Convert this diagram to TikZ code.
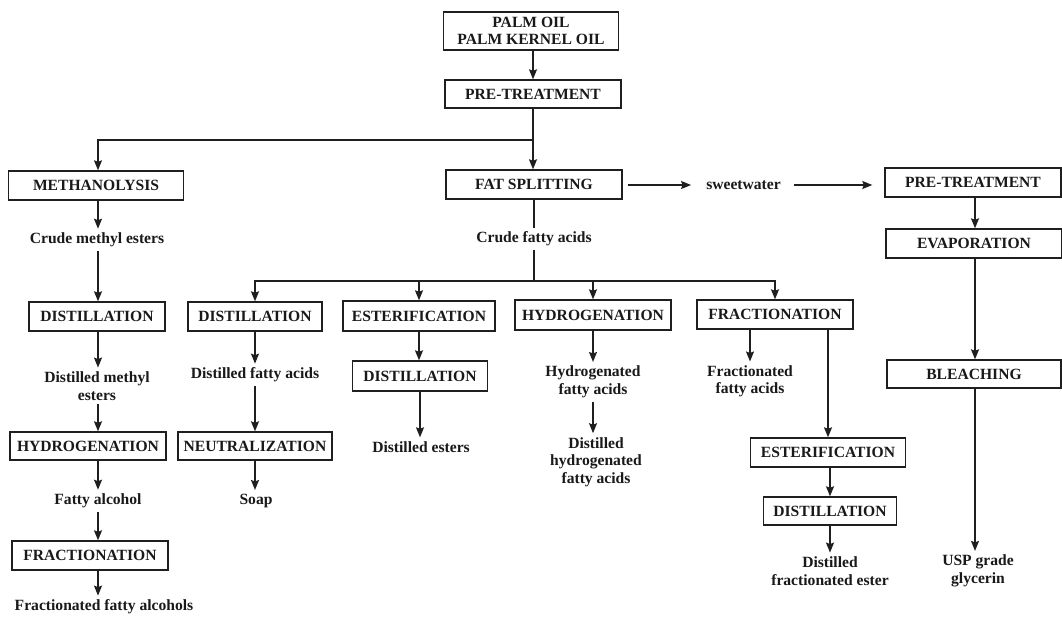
\documentclass[tikz,border=0pt]{standalone}
\usepackage{fontspec}
\setmainfont{Liberation Serif}
\usetikzlibrary{arrows.meta}
\newcommand\lblfont{\fontsize{15.6}{17.5}\selectfont\bfseries}
\begin{document}
\begin{tikzpicture}[x=1pt,y=-1pt,
  ink/.style={draw=black!88, line width=1.4pt},
  arr/.style={ink, -{Stealth[length=10pt,width=8pt,inset=1.5pt]}},
  box/.style={draw=black!88, line width=1.4pt, minimum height=29pt, inner sep=0pt, font=\lblfont, text=black!90},
  lbl/.style={inner sep=4pt, font=\lblfont, align=center, text=black!90}]
\fill[white] (0,0) rectangle (1062,619);
\useasboundingbox (0,0) rectangle (1062,619);

% top
\node[box, minimum width=175pt, minimum height=38pt, align=center] (top) at (531,31) {PALM OIL\\[-1pt]PALM KERNEL OIL};
\node[box, minimum width=176pt, minimum height=28pt] (pre1) at (533,94) {PRE-TREATMENT};
\coordinate (sp) at (533,140);
\node[box, minimum width=175pt] (meth) at (96,185.5) {METHANOLYSIS};
\node[box, minimum width=176pt] (fs) at (534,184.5) {FAT SPLITTING};
\node[lbl] (sw) at (743.5,185) {sweetwater};
\node[box, minimum width=176pt] (pre2) at (973,182.5) {PRE-TREATMENT};

% left column
\coordinate (cL) at (98,0);
\node[lbl] (cme) at (97,240) {Crude methyl esters};
\node[box, minimum width=136pt] (dist1) at (97,316.5) {DISTILLATION};
\node[lbl] (dme) at (97,386) {Distilled methyl\\esters};
\node[box, minimum width=156pt, minimum height=28pt] (hyd1) at (88,446) {HYDROGENATION};
\node[lbl] (falc) at (98,501) {Fatty alcohol};
\node[box, minimum width=156pt] (frac1) at (90,555.5) {FRACTIONATION};
\node[lbl] (fralc) at (104,607) {Fractionated fatty alcohols};

% middle
\node[lbl] (cfa) at (534,239) {Crude fatty acids};
\coordinate (j) at (534,281);
\node[box, minimum width=134pt] (dist2) at (255,316.5) {DISTILLATION};
\node[lbl] (dfa) at (255,375) {Distilled fatty acids};
\node[box, minimum width=154pt, minimum height=28pt] (neut) at (255,446) {NEUTRALIZATION};
\node[lbl] (soap) at (256,501) {Soap};
\node[box, minimum width=152pt, minimum height=30pt] (est1) at (419,316) {ESTERIFICATION};
\node[box, minimum width=135pt, minimum height=30pt] (dist3) at (420,376) {DISTILLATION};
\node[lbl] (dest) at (421,447) {Distilled esters};
\node[box, minimum width=156pt, minimum height=30pt] (hyd2) at (593,315) {HYDROGENATION};
\node[lbl] (hfa) at (593,382) {Hydrogenated\\fatty acids};
\node[lbl] (dhfa) at (596,462) {Distilled\\hydrogenated\\fatty acids};
\node[box, minimum width=156pt] (frac2) at (775,314.5) {FRACTIONATION};
\node[lbl] (ffa) at (750,381.5) {Fractionated\\fatty acids};
\node[box, minimum width=155pt] (est2) at (828,452.5) {ESTERIFICATION};
\node[box, minimum width=133pt, minimum height=28pt] (dist4) at (830,511) {DISTILLATION};
\node[lbl] (dfe) at (830,571) {Distilled\\fractionated ester};

% right column
\coordinate (cR) at (975,0);
\node[box, minimum width=176pt] (evap) at (974,243.5) {EVAPORATION};
\node[box, minimum width=174pt, minimum height=28pt] (bleach) at (974,374) {BLEACHING};
\node[lbl] (usp) at (978,571) {USP grade\\glycerin};

% connectors: top
\draw[arr] (top.south -| sp) -- (pre1.north -| sp);
\draw[ink] (pre1.south -| sp) -- (sp);
\draw[arr] (sp) -| (meth.north -| cL);
\draw[arr] (sp) -- (fs.north -| sp);
\draw[arr, shorten <=5pt, shorten >=11pt] (fs.east |- sw) -- (sw.west);
\draw[arr, shorten <=9pt, shorten >=12pt] (sw.east) -- (sw -| pre2.west);

% left
\draw[arr] (meth.south -| cL) -- (cme.north -| cL);
\draw[arr] (cme.south -| cL) -- (dist1.north -| cL);
\draw[arr] (dist1.south -| cL) -- (dme.north -| cL);
\draw[arr] (dme.south -| cL) -- (hyd1.north -| cL);
\draw[arr] (hyd1.south -| cL) -- (falc.north -| cL);
\draw[arr] (falc.south -| cL) -- (frac1.north -| cL);
\draw[arr] (frac1.south -| cL) -- (fralc.north -| cL);

% middle
\draw[ink] (fs.south -| j) -- (cfa.north -| j);
\draw[ink] (cfa.south -| j) -- (j);
\draw[arr] (j) -| (dist2.north);
\draw[arr] (j) -| (est1.north);
\draw[arr] (j) -| (hyd2.north);
\draw[arr] (j) -| (frac2.north);
\draw[arr] (dist2.south) -- (dfa.north);
\draw[arr] (dfa.south) -- (neut.north);
\draw[arr] (neut.south) -- (neut.south |- soap.north);
\draw[arr] (est1.south) -- (est1.south |- dist3.north);
\draw[arr] (dist3.south) -- (dist3.south |- dest.north);
\draw[arr] (hyd2.south) -- (hfa.north);
\draw[arr] (hfa.south) -- (hfa.south |- dhfa.north);
\draw[arr] (ffa.north |- frac2.south) -- (ffa.north);
\draw[arr] (est2.north |- frac2.south) -- (est2.north);
\draw[arr] (est2.south -| dfe) -- (dist4.north -| dfe);
\draw[arr] (dist4.south -| dfe) -- (dfe.north);

% right
\draw[arr] (pre2.south -| cR) -- (evap.north -| cR);
\draw[arr] (evap.south -| cR) -- (bleach.north -| cR);
\draw[arr] (bleach.south -| cR) -- (usp.north -| cR);
\end{tikzpicture}
\end{document}
